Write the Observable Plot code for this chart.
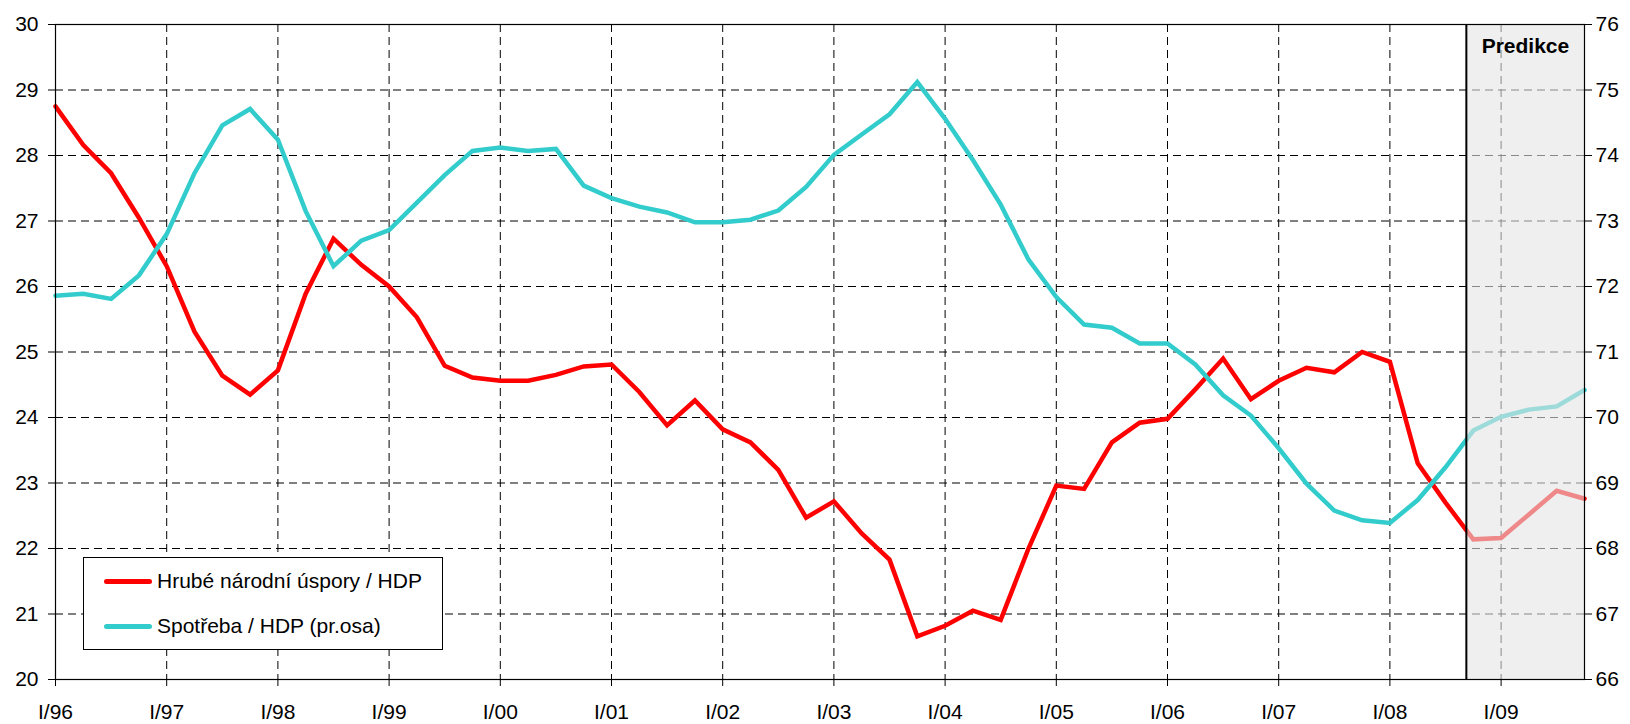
<!DOCTYPE html>
<html>
<head>
<meta charset="utf-8">
<script src="https://cdn.jsdelivr.net/npm/d3@7"></script>
<script src="https://cdn.jsdelivr.net/npm/@observablehq/plot@0.6"></script>
<style>
  body { margin: 0; background: #fff; }
  #wrap { position: relative; width: 1630px; height: 724px; font-family: Arial, "Liberation Sans", sans-serif; }
  #legend { position: absolute; left: 83px; top: 557px; width: 360px; height: 93px; border: 1.3px solid #000; background: #fff; box-sizing: border-box; font-size: 21px; color: #000; }
  .item { position: absolute; left: 20px; height: 24px; line-height: 24px; display: flex; align-items: center; white-space: nowrap; }
  .sw { width: 48px; height: 5px; border-radius: 2.5px; margin-right: 5px; }
</style>
</head>
<body>
<div id="wrap"></div>
<script>
// Categories
const years = ["96","97","98","99","00","01","02","03","04","05","06","07","08","09"];
const quarterNames = ["I","II","III","IV"];
const quarters = years.flatMap(y => quarterNames.map(q => q + "/" + y));
const yearTickLabels = years.map(y => "I/" + y);

// Series: Hrubé národní úspory / HDP (left axis, %)
const uspory = [
  28.75, 28.16, 27.73, 27.05, 26.31, 25.31, 24.64, 24.35,
  24.72, 25.89, 26.73, 26.33, 26.00, 25.53, 24.79, 24.61,
  24.56, 24.56, 24.65, 24.78, 24.81, 24.39, 23.88, 24.26,
  23.82, 23.62, 23.20, 22.47, 22.72, 22.23, 21.83, 20.66,
  20.82, 21.05, 20.91, 22.00, 22.96, 22.91, 23.62, 23.92,
  23.98, 24.43, 24.90, 24.28, 24.56, 24.76, 24.69, 25.00,
  24.85, 23.30, 22.70, 22.14, 22.16, 22.52, 22.88, 22.76
];
// Series: Spotřeba / HDP (right axis, %)
const spotreba = [
  71.86, 71.89, 71.81, 72.17, 72.80, 73.73, 74.46, 74.71,
  74.24, 73.15, 72.31, 72.70, 72.86, 73.28, 73.70, 74.07,
  74.12, 74.07, 74.10, 73.54, 73.35, 73.22, 73.13, 72.98,
  72.98, 73.02, 73.16, 73.52, 74.01, 74.32, 74.63, 75.12,
  74.56, 73.93, 73.25, 72.41, 71.84, 71.42, 71.37, 71.13,
  71.13, 70.81, 70.34, 70.03, 69.53, 68.99, 68.58, 68.43,
  68.39, 68.74, 69.24, 69.80, 70.01, 70.12, 70.17, 70.42
];

// Axis ticks
const leftTicks = [20, 21, 22, 23, 24, 25, 26, 27, 28, 29, 30];
const rightTicks = [66, 67, 68, 69, 70, 71, 72, 73, 74, 75, 76];
const seriesNames = ["Hrubé národní úspory / HDP", "Spotřeba / HDP (pr.osa)"];
const forecastLabel = "Predikce";
const forecastFrom = "IV/08";

// Derived tables
const axisOffset = rightTicks[0] - leftTicks[0];
const data = quarters.map((q, i) => ({ i, q, uspory: uspory[i], spotreba: spotreba[i] }));
const yearIdx = yearTickLabels.map(l => quarters.indexOf(l));
const shade = [{ x1: quarters.indexOf(forecastFrom) - 0.25, x2: quarters.length - 1, y1: leftTicks[0], y2: leftTicks[leftTicks.length - 1] }];
const shadeText = [{ x: (shade[0].x1 + shade[0].x2) / 2, label: forecastLabel }];

const colors = ["#ff0000", "#33cccc"];
const dash = "8,5";

const plot = Plot.plot({
  width: 1630,
  height: 724,
  marginLeft: 55,
  marginRight: 46,
  marginTop: 24,
  marginBottom: 45,
  style: { fontFamily: "Arial, 'Liberation Sans', sans-serif", fontSize: "21px", color: "#000", background: "transparent", overflow: "visible" },
  x: { domain: [0, quarters.length - 1] },
  y: { domain: [leftTicks[0], leftTicks[leftTicks.length - 1]] },
  marks: [
    Plot.gridY(leftTicks.slice(1, -1), { stroke: "#000", strokeOpacity: 1, strokeWidth: 1, strokeDasharray: dash }),
    Plot.gridX(yearIdx.slice(1), { stroke: "#000", strokeOpacity: 1, strokeWidth: 1, strokeDasharray: dash }),
    Plot.line(data, { x: "i", y: "uspory", stroke: colors[0], strokeWidth: 4.5, strokeLinejoin: "miter", strokeMiterlimit: 4 }),
    Plot.line(data, { x: "i", y: d => d.spotreba - axisOffset, stroke: colors[1], strokeWidth: 4.5, strokeLinejoin: "miter", strokeMiterlimit: 4 }),
    Plot.rect(shade, { x1: "x1", x2: "x2", y1: "y1", y2: "y2", fill: "#e4e4e4", fillOpacity: 0.6 }),
    Plot.ruleX(shade, { x: "x1", stroke: "#000", strokeWidth: 2 }),
    Plot.frame({ stroke: "#000", strokeWidth: 1.2 }),
    Plot.text(shadeText, { x: "x", text: "label", frameAnchor: "top", lineAnchor: "top", dy: 14, fontWeight: "bold", fontSize: 21, fill: "#000" }),
    Plot.axisY({ ticks: leftTicks, tickSize: 7, tickPadding: 10, label: null, tickFormat: d => String(d) }),
    Plot.axisY({ anchor: "right", ticks: leftTicks, tickSize: 7, tickPadding: 4, label: null, tickFormat: d => String(rightTicks[leftTicks.indexOf(d)]) }),
    Plot.axisX({ ticks: yearIdx, tickSize: 7, tickPadding: 18, label: null, tickFormat: d => yearTickLabels[yearIdx.indexOf(d)] })
  ]
});

const wrap = document.getElementById("wrap");
wrap.appendChild(plot);

const legend = document.createElement("div");
legend.id = "legend";
seriesNames.forEach((name, k) => {
  const item = document.createElement("div");
  item.className = "item";
  item.style.top = (k === 0 ? 11 : 56) + "px";
  const sw = document.createElement("span");
  sw.className = "sw";
  sw.style.background = colors[k];
  const tx = document.createElement("span");
  tx.textContent = name;
  item.appendChild(sw);
  item.appendChild(tx);
  legend.appendChild(item);
});
wrap.appendChild(legend);
</script>
</body>
</html>
